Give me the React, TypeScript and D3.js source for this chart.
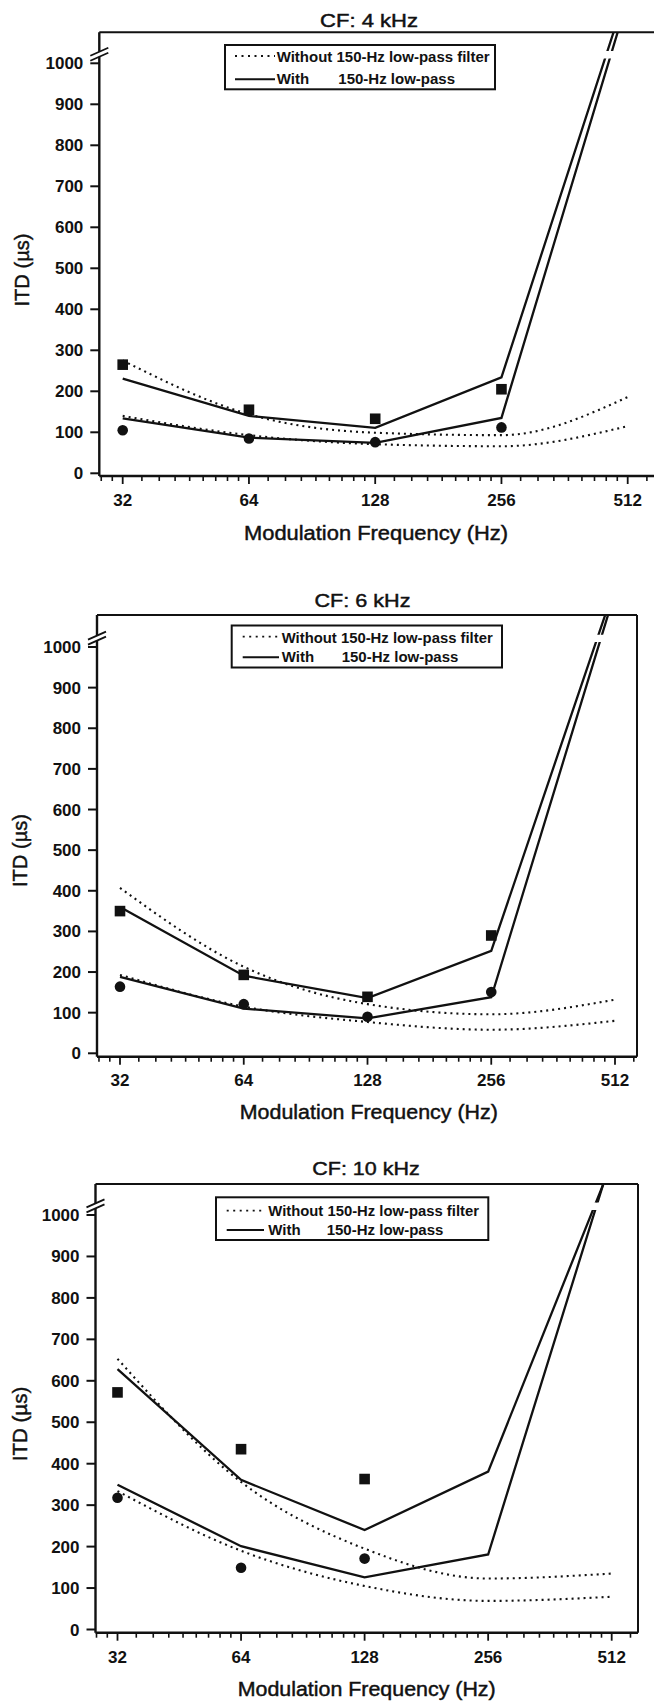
import React from "react";
import * as d3 from "d3";

// ---------- data ----------
const FREQS = [32, 64, 128, 256, 512];
const MARKER_FREQS = [32, 64, 128, 256];
const X_TICK_LABELS = ["32", "64", "128", "256", "512"];
const Y_TICKS = [0, 100, 200, 300, 400, 500, 600, 700, 800, 900, 1000];
const TITLES = ["CF: 4 kHz", "CF: 6 kHz", "CF: 10 kHz"];
const X_LABEL = "Modulation Frequency (Hz)";
const Y_LABEL = "ITD (\u00b5s)";
const LEGEND_WITHOUT = "Without 150-Hz low-pass filter";
const LEGEND_WITH_A = "With";
const LEGEND_WITH_B = "150-Hz low-pass";

// CF 4 kHz
const CF4_SQUARES = [265, 155, 133, 205];
const CF4_CIRCLES = [105, 85, 76, 112];
const CF4_WITH_UPPER = [231, 140, 111, 234, 1182];
const CF4_WITH_LOWER = [134, 87, 74, 135, 1157];
const CF4_WITHOUT_UPPER = [275, 144, 99, 93, 186];
const CF4_WITHOUT_LOWER = [140, 93, 71, 66, 115];

// CF 6 kHz
const CF6_SQUARES = [350, 193, 139, 290];
const CF6_CIRCLES = [164, 121, 90, 151];
const CF6_WITH_UPPER = [360, 191, 136, 252, 1150];
const CF6_WITH_LOWER = [188, 110, 86, 138, 1135];
const CF6_WITHOUT_UPPER = [407, 213, 121, 96, 132];
const CF6_WITHOUT_LOWER = [193, 115, 77, 58, 80];

// CF 10 kHz
const CF10_SQUARES = [572, 435, 363];
const CF10_CIRCLES = [318, 149, 171];
const CF10_WITH_UPPER = [628, 361, 240, 381, 1125];
const CF10_WITH_LOWER = [349, 201, 126, 181, 1140];
const CF10_WITHOUT_UPPER = [653, 356, 195, 123, 135];
const CF10_WITHOUT_LOWER = [334, 190, 105, 69, 79];

const PANELS = [
  { squares: CF4_SQUARES, circles: CF4_CIRCLES, withU: CF4_WITH_UPPER, withL: CF4_WITH_LOWER, woU: CF4_WITHOUT_UPPER, woL: CF4_WITHOUT_LOWER },
  { squares: CF6_SQUARES, circles: CF6_CIRCLES, withU: CF6_WITH_UPPER, withL: CF6_WITH_LOWER, woU: CF6_WITHOUT_UPPER, woL: CF6_WITHOUT_LOWER },
  { squares: CF10_SQUARES, circles: CF10_CIRCLES, withU: CF10_WITH_UPPER, withL: CF10_WITH_LOWER, woU: CF10_WITHOUT_UPPER, woL: CF10_WITHOUT_LOWER },
];

// ---------- layout ----------
const LAYOUTS = [
  {
    left: 99.3, right: 656, top: 32.3, bottom: 476, y0: 473.3, y1000: 63.3, x32: 122.7, x512: 627.7,
    title: { x: 369, y: 26.7, w: 98 }, xlab: { x: 376, y: 539.5, w: 264 }, ylab: { x: 29, y: 270, w: 73 },
    legend: { x0: 225, y0: 45, x1: 495, y1: 89.3, sx0: 235, sx1: 275, r1: 56, r2: 79.3, tx: 276.7, tb1: 61.5, tb2: 84, tx2: 338.3, tw: 213 },
  },
  {
    left: 97, right: 637, top: 615, bottom: 1056.7, y0: 1053.3, y1000: 647, x32: 120, x512: 615,
    title: { x: 362.5, y: 606.7, w: 96 }, xlab: { x: 368.8, y: 1119.3, w: 258 }, ylab: { x: 27, y: 850.5, w: 73 },
    legend: { x0: 231.7, y0: 625.5, x1: 502, y1: 667.5, sx0: 242.7, sx1: 279, r1: 636.7, r2: 657.3, tx: 281.7, tb1: 642.5, tb2: 662, tx2: 341.7, tw: 211 },
  },
  {
    left: 95.5, right: 638, top: 1184, bottom: 1632.7, y0: 1629.5, y1000: 1215, x32: 117.5, x512: 611.7,
    title: { x: 366, y: 1174.7, w: 107.5 }, xlab: { x: 366.7, y: 1695.5, w: 258 }, ylab: { x: 27, y: 1424, w: 74.5 },
    legend: { x0: 216, y0: 1197.3, x1: 488.3, y1: 1240, sx0: 226.7, sx1: 264, r1: 1210.7, r2: 1230, tx: 268.3, tb1: 1216, tb2: 1235, tx2: 326.7, tw: 210.7 },
  },
];

const FONT = "'Liberation Sans', Arial, Helvetica, sans-serif";
const INK = "#111";
const BREAK_LOW = 1012;
const BREAK_HIGH = 1030;
const BREAK_MARK = 1022;

function Panel({ idx }: { idx: number }) {
  const L = LAYOUTS[idx];
  const D = PANELS[idx];
  const x = d3.scaleLog().base(2).domain([32, 512]).range([L.x32, L.x512]);
  const y = d3.scaleLinear().domain([0, 1000]).range([L.y0, L.y1000]);

  const straight = d3
    .line<number>()
    .x((_, i) => x(FREQS[i]))
    .y((d) => y(d));
  const smooth = d3
    .line<number>()
    .x((_, i) => x(FREQS[i]))
    .y((d) => y(d))
    .curve(d3.curveMonotoneX);

  // minor ticks (linear subdivisions within each octave)
  const minor: number[] = [];
  for (let k = 16; k <= 512; k *= 2) {
    for (let j = 1; j <= 8; j++) minor.push(k * (1 + j / 9));
  }
  const minorVis = minor.filter((v) => x(v) > L.left + 1 && x(v) < L.right - 1);

  const clipLow = `clipLow${idx}`;
  const clipHigh = `clipHigh${idx}`;
  const yBL = y(BREAK_LOW);
  const yBH = y(BREAK_HIGH);
  const yb = y(BREAK_MARK);

  const lines = (clip: string) => (
    <g clipPath={`url(#${clip})`}>
      <path d={smooth(D.woU) || ""} fill="none" stroke={INK} strokeWidth={2.1} strokeDasharray="2 4" />
      <path d={smooth(D.woL) || ""} fill="none" stroke={INK} strokeWidth={2.1} strokeDasharray="2 4" />
      <path d={straight(D.withU) || ""} fill="none" stroke={INK} strokeWidth={2.3} />
      <path d={straight(D.withL) || ""} fill="none" stroke={INK} strokeWidth={2.3} />
    </g>
  );

  const lg = L.legend;
  return (
    <g fontFamily={FONT}>
      <defs>
        <clipPath id={clipLow}>
          <rect x={L.left} y={yBL} width={L.right - L.left} height={L.bottom - yBL} />
        </clipPath>
        <clipPath id={clipHigh}>
          <rect x={L.left} y={L.top} width={L.right - L.left} height={yBH - L.top} />
        </clipPath>
      </defs>

      {/* title */}
      <text x={L.title.x} y={L.title.y} textAnchor="middle" fontSize={19} fill={INK} stroke={INK} strokeWidth={0.45} textLength={L.title.w} lengthAdjust="spacingAndGlyphs">
        {TITLES[idx]}
      </text>

      {/* data lines */}
      {lines(clipLow)}
      {lines(clipHigh)}

      {/* markers */}
      {D.squares.map((v, i) => (
        <rect key={`s${i}`} x={x(MARKER_FREQS[i]) - 5.3} y={y(v) - 5.3} width={10.6} height={10.6} fill={INK} />
      ))}
      {D.circles.map((v, i) => (
        <circle key={`c${i}`} cx={x(MARKER_FREQS[i])} cy={y(v)} r={5.3} fill={INK} />
      ))}

      {/* frame */}
      <line x1={L.left} x2={L.right} y1={L.top} y2={L.top} stroke={INK} strokeWidth={2} />
      <line x1={L.right} x2={L.right} y1={L.top} y2={L.bottom} stroke={INK} strokeWidth={2} />
      <line x1={L.left} x2={L.right} y1={L.bottom} y2={L.bottom} stroke={INK} strokeWidth={2.4} />
      <line x1={L.left} x2={L.left} y1={L.top} y2={L.bottom} stroke={INK} strokeWidth={2.4} />

      {/* y ticks */}
      {Y_TICKS.map((t) => (
        <g key={`yt${t}`}>
          <line x1={L.left - 9} x2={L.left} y1={y(t)} y2={y(t)} stroke={INK} strokeWidth={2} />
          <text x={L.left - 16} y={y(t) + 6} textAnchor="end" fontSize={17} fontWeight="bold" fill={INK}>
            {t}
          </text>
        </g>
      ))}

      {/* axis break */}
      <rect x={L.left - 3} y={yb - 2.5} width={6} height={5} fill="#fff" />
      <line x1={L.left - 9} y1={yb + 1.5} x2={L.left + 9} y2={yb - 6.5} stroke={INK} strokeWidth={1.8} />
      <line x1={L.left - 9} y1={yb + 6.5} x2={L.left + 9} y2={yb - 1.5} stroke={INK} strokeWidth={1.8} />

      {/* x ticks */}
      {minorVis.map((v, i) => (
        <line key={`mx${i}`} x1={x(v)} x2={x(v)} y1={L.bottom} y2={L.bottom + 5} stroke={INK} strokeWidth={1.6} />
      ))}
      {FREQS.map((f, i) => (
        <g key={`xt${f}`}>
          <line x1={x(f)} x2={x(f)} y1={L.bottom} y2={L.bottom + 8} stroke={INK} strokeWidth={1.8} />
          <text x={x(f)} y={L.y0 + 33} textAnchor="middle" fontSize={17} fontWeight="bold" fill={INK}>
            {X_TICK_LABELS[i]}
          </text>
        </g>
      ))}

      {/* axis labels */}
      <text x={L.xlab.x} y={L.xlab.y} textAnchor="middle" fontSize={20} fill={INK} stroke={INK} strokeWidth={0.45} textLength={L.xlab.w} lengthAdjust="spacingAndGlyphs">
        {X_LABEL}
      </text>
      <text
        transform={`translate(${L.ylab.x},${L.ylab.y}) rotate(-90)`}
        textAnchor="middle"
        fontSize={20}
        fill={INK}
        stroke={INK}
        strokeWidth={0.45}
        textLength={L.ylab.w}
        lengthAdjust="spacingAndGlyphs"
      >
        {Y_LABEL}
      </text>

      {/* legend */}
      <rect x={lg.x0} y={lg.y0} width={lg.x1 - lg.x0} height={lg.y1 - lg.y0} fill="#fff" stroke={INK} strokeWidth={2} />
      <line x1={lg.sx0} x2={lg.sx1} y1={lg.r1} y2={lg.r1} stroke={INK} strokeWidth={1.8} strokeDasharray="2 4.5" />
      <line x1={lg.sx0} x2={lg.sx1} y1={lg.r2} y2={lg.r2} stroke={INK} strokeWidth={2} />
      <text x={lg.tx} y={lg.tb1} fontSize={15} fontWeight="bold" fill={INK} textLength={lg.tw} lengthAdjust="spacingAndGlyphs">
        {LEGEND_WITHOUT}
      </text>
      <text x={lg.tx} y={lg.tb2} fontSize={15} fontWeight="bold" fill={INK}>
        {LEGEND_WITH_A}
      </text>
      <text x={lg.tx2} y={lg.tb2} fontSize={15} fontWeight="bold" fill={INK}>
        {LEGEND_WITH_B}
      </text>
    </g>
  );
}

export default function App() {
  return (
    <svg
      width={654}
      height={1702}
      viewBox="0 0 654 1702"
      style={{ position: "absolute", left: 0, top: 0, display: "block", background: "#fff" }}
    >
      <rect x={0} y={0} width={654} height={1702} fill="#fff" />
      {PANELS.map((_, i) => (
        <Panel key={i} idx={i} />
      ))}
    </svg>
  );
}
